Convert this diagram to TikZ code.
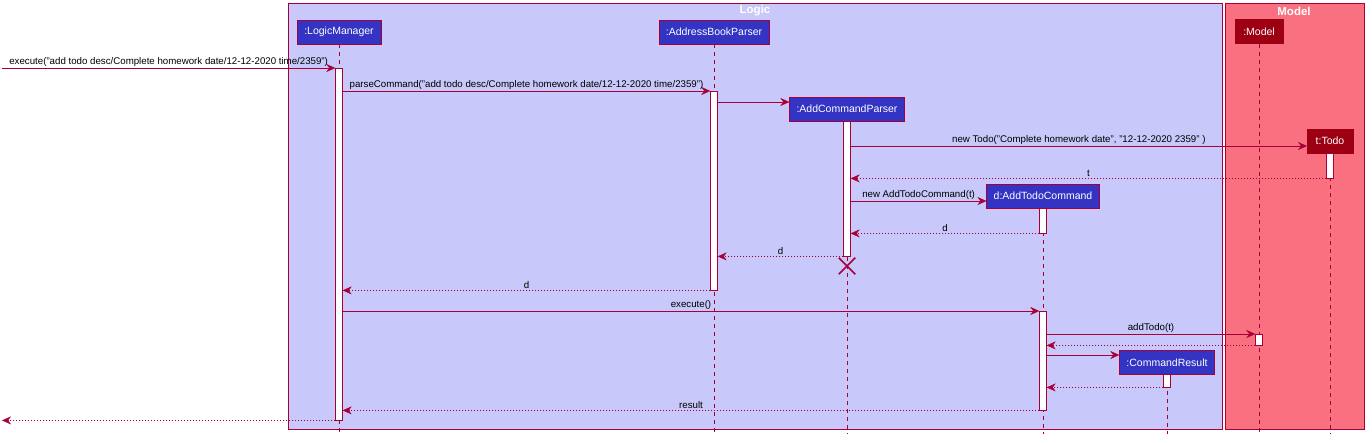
\documentclass[tikz,border=0pt]{standalone}
\usepackage{fontspec}
\setmainfont{Liberation Sans}
\usetikzlibrary{arrows.meta, shapes.misc}

\definecolor{logicblue}{HTML}{3333C4}
\definecolor{logicbg}{HTML}{C8C8FA}
\definecolor{modelred}{HTML}{9D0012}
\definecolor{modelbg}{HTML}{F97181}
\definecolor{umlline}{HTML}{A80036}

\tikzset{
  box/.style={draw=umlline, fill=logicblue, text=white, font=\fontsize{10.5}{12}\selectfont, inner xsep=7pt, minimum height=24pt},
  mbox/.style={box, draw=modelred, fill=modelred, inner xsep=8.5pt},
  title/.style={text=white, font=\fontsize{11.5}{13}\selectfont\bfseries},
  life/.style={umlline, dash pattern=on 4pt off 4pt},
  act/.style={draw=umlline, fill=white, minimum width=7pt, inner sep=0pt, anchor=north},
  msg/.style={umlline, -{Stealth[length=9pt,width=8pt,inset=3pt]}},
  ret/.style={msg, dash pattern=on 1.5pt off 1.5pt},
  lbl/.style={midway, above, text=black, font=\fontsize{9.7}{11}\selectfont, inner sep=1.5pt},
}

\begin{document}
\begin{tikzpicture}[x=1pt, y=-1pt]
\useasboundingbox (0,0) rectangle (1372,442);
%% frames
\draw[umlline, fill=logicbg] (288,3) rectangle (1222,429);
\draw[umlline, fill=modelbg] (1225,3) rectangle (1364,429);
\node[title] (logicTitle) at (755,11) {Logic};
\node[title] (modelTitle) at (1294,11) {Model};
%% participants
\node[box] (lm) at (339,32) {:LogicManager};
\node[box] (abp) at (714,32) {:AddressBookParser};
\node[box] (acp) at (847,109) {:AddCommandParser};
\node[box] (atc) at (1043,196) {d:AddTodoCommand};
\node[box] (cr) at (1167,362.5) {:CommandResult};
\node[mbox] (mdl) at (1259,31.5) {:Model};
\node[mbox] (td) at (1330,141) {t:Todo};
%% lifelines
\foreach \p in {lm,abp,acp,atc,cr,mdl,td}
  \draw[life] (\p.south) -- (\p |- 0,434);
%% activations
\node[act, minimum height=352pt] (lmAct) at (lm |- 0,68) {};
\node[act, minimum height=199pt] (abpAct) at (abp |- 0,91) {};
\node[act, minimum height=135pt] (acpAct) at (acp |- 0,121) {};
\node[act, minimum height=25pt] (tdAct) at (td |- 0,153) {};
\node[act, minimum height=25pt] (atcAct) at (atc |- 0,208) {};
\node[act, minimum height=99pt] (atcAct2) at (atc |- 0,311) {};
\node[act, minimum height=11pt] (mdlAct) at (mdl |- 0,334) {};
\node[act, minimum height=13pt] (crAct) at (cr |- 0,374) {};
\node[draw=umlline, cross out, minimum size=15pt, line width=1.5pt] (acpEnd) at (acp |- 0,266) {};
%% messages
\coordinate (ext) at (2,0);
\draw[msg] (ext |- lmAct.north) -- node[lbl]{execute("add todo desc/Complete homework date/12-12-2020 time/2359")} (lmAct.north west);
\draw[msg] (lmAct.east |- abpAct.north) -- node[lbl]{parseCommand("add todo desc/Complete homework date/12-12-2020 time/2359")} (abpAct.north west);
\draw[msg] (abpAct.east |- 0,102) -- (acp.west |- 0,102);
\draw[msg] (acpAct.east |- 0,146) -- node[lbl]{new Todo("Complete homework date", "12-12-2020 2359" )} (td.west |- 0,146);
\draw[ret] (tdAct.south west) -- node[lbl]{t} (acpAct.east |- tdAct.south);
\draw[msg] (acpAct.east |- 0,201) -- node[lbl]{new AddTodoCommand(t)} (atc.west |- 0,201);
\draw[ret] (atcAct.south west) -- node[lbl]{d} (acpAct.east |- atcAct.south);
\draw[ret] (acpAct.south west) -- node[lbl]{d} (abpAct.east |- acpAct.south);
\draw[ret] (abpAct.south west) -- node[lbl]{d} (lmAct.east |- abpAct.south);
\draw[msg] (lmAct.east |- atcAct2.north) -- node[lbl]{execute()} (atcAct2.north west);
\draw[msg] (atcAct2.east |- mdlAct.north) -- node[lbl]{addTodo(t)} (mdlAct.north west);
\draw[ret] (mdlAct.south west) -- (atcAct2.east |- mdlAct.south);
\draw[msg] (atcAct2.east |- 0,355) -- (cr.west |- 0,355);
\draw[ret] (crAct.south west) -- (atcAct2.east |- crAct.south);
\draw[ret] (atcAct2.south west) -- node[lbl]{result} (lmAct.east |- atcAct2.south);
\draw[ret] (lmAct.south west) -- (ext |- lmAct.south);
\end{tikzpicture}
\end{document}
